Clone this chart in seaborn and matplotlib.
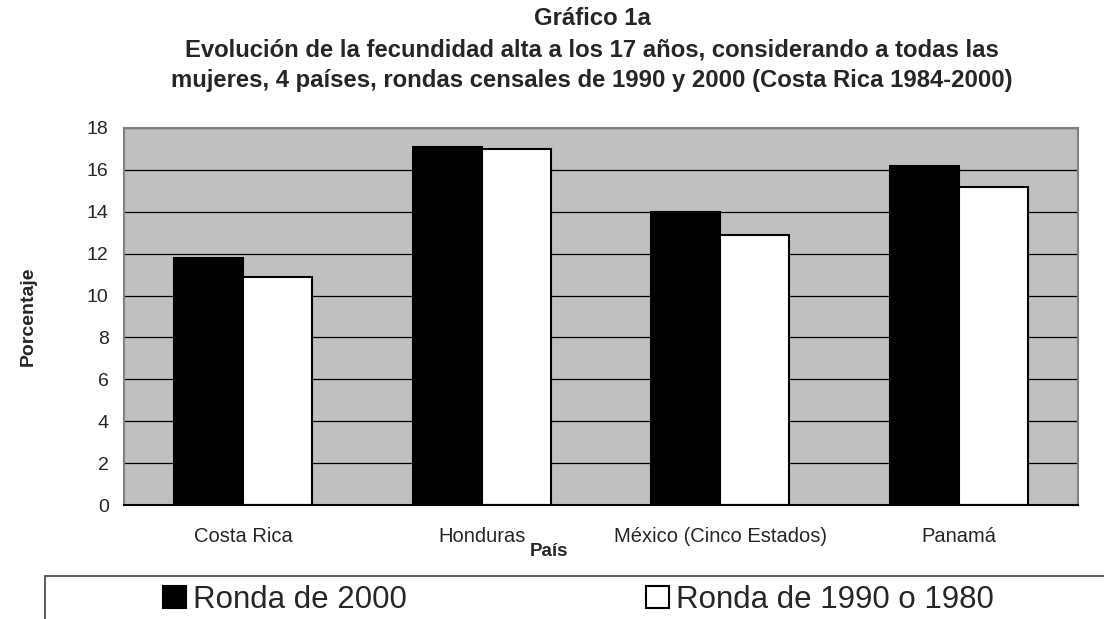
import numpy as np
import pandas as pd
import matplotlib
matplotlib.use("Agg")
import matplotlib.pyplot as plt
import seaborn as sns
from matplotlib.patches import Rectangle

paises = ["Costa Rica", "Honduras", "México (Cinco Estados)", "Panamá"]
ronda_2000 = [11.8, 17.1, 14.0, 16.2]
ronda_1990 = [10.9, 17.0, 12.9, 15.2]
series = ["Ronda de 2000", "Ronda de 1990 o 1980"]

df = pd.DataFrame({
    "País": paises * 2,
    "Porcentaje": ronda_2000 + ronda_1990,
    "Ronda": [series[0]] * 4 + [series[1]] * 4,
})

sns.set_style("white")
plt.rcParams["font.family"] = ["Liberation Sans", "DejaVu Sans"]

fig = plt.figure(figsize=(11.04, 6.19), dpi=100)
ax = fig.add_axes([124 / 1104, 1 - 505 / 619, (1078 - 124) / 1104, (505 - 128) / 619])
ax.set_facecolor("#c0c0c0")

sns.barplot(data=df, x="País", y="Porcentaje", hue="Ronda", hue_order=series,
            palette=["black", "white"], edgecolor="black", linewidth=1.5,
            width=0.58, gap=0, ax=ax, legend=False)

ax.set_ylim(0, 18)
ax.set_yticks(np.arange(0, 19, 2))
ax.yaxis.grid(True, color="black", linewidth=0.9)
ax.set_axisbelow(True)
for s in ["top", "right", "left"]:
    ax.spines[s].set_color("#808080")
    ax.spines[s].set_linewidth(1.5)
ax.spines["bottom"].set_color("black")
ax.spines["bottom"].set_linewidth(1.5)
ax.tick_params(axis="y", labelsize=14, length=0, pad=11)
ax.tick_params(axis="x", labelsize=14.5, length=0, pad=16)
ax.set_xlabel("País", fontsize=13.5, fontweight="bold")
ax.xaxis.set_label_coords((549 - 124) / 954, -0.10)
ax.set_ylabel("Porcentaje", fontsize=14, fontweight="bold", labelpad=36)

fig.text(592 / 1104, 1 - 7 / 619,
         "Gráfico 1a\nEvolución de la fecundidad alta a los 17 años, considerando a todas las\n"
         "mujeres, 4 países, rondas censales de 1990 y 2000 (Costa Rica 1984-2000)",
         ha="center", va="top", fontsize=17.2, fontweight="bold", linespacing=1.45)

# legend box (runs off the figure edge like the original)
fig.patches.append(Rectangle((45 / 1104, -0.1), 1.2, (619 - 576) / 619 + 0.1,
                             transform=fig.transFigure, facecolor="white",
                             edgecolor="#404040", linewidth=1.2))
handles = [Rectangle((0, 0), 1, 1, facecolor=c, edgecolor="black", linewidth=1.5)
           for c in ["black", "white"]]
fig.legend(handles, series, loc="center left", bbox_to_anchor=(163 / 1104, 1 - 600 / 619),
           ncol=2, frameon=False, fontsize=22.5, handlelength=0.74, handleheight=0.74,
           handletextpad=0.22, columnspacing=7.65, borderpad=0, borderaxespad=0)

fig.savefig("out.png", dpi=100)
